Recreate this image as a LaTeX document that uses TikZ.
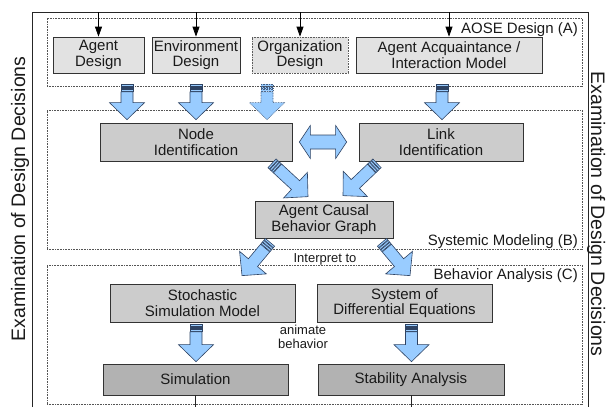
\documentclass[tikz,border=0pt]{standalone}
\usepackage{fontspec}
\setmainfont{Liberation Sans}
\usetikzlibrary{arrows.meta,calc}
\definecolor{boxA}{HTML}{E2E2E2}
\definecolor{boxB}{HTML}{CCCCCC}
\definecolor{boxC}{HTML}{B2B2B2}
\definecolor{arrfill}{HTML}{99CCFF}
\definecolor{arrline}{HTML}{2E4363}
\definecolor{edgecol}{HTML}{333333}
\definecolor{grpcol}{HTML}{555555}
\definecolor{txtcol}{HTML}{1A1A1A}
\newcommand\bxfont{\fontsize{15}{15.5}\selectfont}
\newcommand\smfont{\fontsize{13}{13.5}\selectfont}
\newcommand\sidefont{\fontsize{19.5}{22}\selectfont}
\newcommand\blkarrow[3][]{%
  \path #2 coordinate (ba-s);
  \path #3 coordinate (ba-e);
  \pgfpointdiff{\pgfpointanchor{ba-s}{center}}{\pgfpointanchor{ba-e}{center}}%
  \pgfgetlastxy{\bax}{\bay}%
  \pgfmathsetmacro\baang{atan2(\bay,\bax)}%
  \pgfmathsetmacro\balen{veclen(\bax,\bay)}%
  \pgfmathsetmacro\bahd{\balen-17}%
  \begin{scope}[shift={(ba-s)}, rotate=\baang]
    \foreach \a/\b in {0/1.9, 2.5/4.4, 5.0/6.9}
      \draw[blk,#1] (\a pt,-6pt) rectangle (\b pt,6pt);
    \draw[blk,#1] (7.5pt,-6pt) -- (\bahd pt,-6pt) -- (\bahd pt,-17.5pt) -- (\balen pt,0pt)
      -- (\bahd pt,17.5pt) -- (\bahd pt,6pt) -- (7.5pt,6pt) -- cycle;
  \end{scope}
}
\begin{document}
\begin{tikzpicture}[x=1pt,y=-1pt,
  box/.style={draw=edgecol, line width=0.7pt, inner sep=0pt, align=center, font=\bxfont, text=txtcol},
  boxa/.style={box, fill=boxA},
  boxb/.style={box, fill=boxB},
  boxc/.style={box, fill=boxC},
  grp/.style={draw=grpcol, line width=0.6pt, dash pattern=on 0.8pt off 0.8pt, inner sep=0pt, minimum width=535pt},
  lbl/.style={inner sep=0pt, font=\bxfont, text=txtcol},
  small/.style={inner sep=0pt, font=\smfont, text=txtcol, align=center},
  side/.style={inner sep=0pt, font=\sidefont, text=txtcol},
  blk/.style={draw=arrline, fill=arrfill, line width=0.6pt, line join=miter},
  blkdot/.style={draw=arrline!80!arrfill, dash pattern=on 0.8pt off 0.8pt},
  frame/.style={draw=black!85, line width=0.8pt},
  toparr/.style={draw=black, line width=0.7pt, -{Triangle[length=10pt,width=7pt]}},
]
\useasboundingbox (0,0) rectangle (610,407);

% dotted groups
\node[grp, minimum height=68pt] (gA) at (314.5,52) {};
\node[grp, minimum height=139pt] (gB) at (314.5,179.5) {};
\node[grp, minimum height=139pt] (gC) at (314.5,334.5) {};

\node[lbl, anchor=base east] (lA) at (578,33) {AOSE Design (A)};
\node[lbl, anchor=base east] (lB) at (578,245) {Systemic Modeling (B)};
\node[lbl, anchor=base east] (lC) at (578,279) {Behavior Analysis (C)};

% frame
\coordinate (fTL) at (32,12);
\coordinate (fTR) at (588,12);
\coordinate (fBL) at (32,407);
\coordinate (fBR) at (588,407);
\draw[frame] (fBL) -- (fTL) -- (fTR) -- (fBR);

% side texts
\node[side, rotate=90, anchor=base] (sL) at (25,199) {Examination of Design Decisions};
\node[side, rotate=-90, anchor=base] (sR) at (591,214) {Examination of Design Decisions};

% boxes
\node[boxa, minimum width=91pt, minimum height=36pt] (agent) at (98.5,55) {Agent\\Design};
\node[boxa, minimum width=88pt, minimum height=36pt] (env) at (196,55) {Environment\\Design};
\node[boxa, draw=edgecol!80, dash pattern=on 0.8pt off 0.8pt, minimum width=96pt, minimum height=36pt] (org) at (300,55) {Organization\\Design};
\node[boxa, minimum width=186pt, minimum height=36pt] (acq) at (449,55) {Agent Acquaintance /\\Interaction Model};

\node[boxb, minimum width=192pt, minimum height=38pt] (node) at (196,142) {Node\\Identification};
\node[boxb, minimum width=164pt, minimum height=38pt] (link) at (441,142) {Link\\Identification};
\node[boxb, minimum width=138pt, minimum height=37pt] (acbg) at (324,219.5) {Agent Causal\\Behavior Graph};

\node[boxb, minimum width=185pt, minimum height=38pt] (stoch) at (202.5,303) {Stochastic\\Simulation Model};
\node[boxb, minimum width=175pt, minimum height=38pt] (sde) at (404.5,303) {System of\\Differential Equations};

\node[boxc, minimum width=185pt, minimum height=31pt] (sim) at (195.5,379.5) {Simulation};
\node[boxc, minimum width=186pt, minimum height=31pt] (stab) at (411,379.5) {Stability Analysis};

% small labels
\node[small, anchor=base] (interp) at (325,262) {Interpret to};
\node[small] (anim) at (303,337) {animate\\behavior};

% top connectors
\draw[toparr] (agent.north |- fTL) -- (agent.north);
\draw[toparr] (env.north |- fTL) -- (env.north);
\draw[toparr] (org.north |- fTL) -- (org.north);
\draw[toparr] (acq.north |- fTL) -- (acq.north);

% bottom connectors
\draw[frame] (sim.south) -- (sim.south |- fBL);
\draw[frame] (stab.south) -- (stab.south |- fBL);

% block arrows
\blkarrow{($(agent.south)+(28.5,11)$)}{($(node.north)+(-69,-3)$)}
\blkarrow{($(env.south)+(0,11)$)}{($(node.north)+(0,-3)$)}
\blkarrow[blkdot]{($(org.south)+(-33,11)$)}{($(node.north)+(71,-3)$)}
\blkarrow{($(acq.south)+(-7,11)$)}{($(link.north)+(1,-3)$)}
\blkarrow{($(node.south)+(76,2)$)}{($(acbg.north)+(-16,-4)$)}
\blkarrow{($(link.south)+(-64,2)$)}{($(acbg.north)+(19,-5)$)}
\blkarrow{($(acbg.south)+(-54,4)$)}{($(stoch.north)+(39.5,-8)$)}
\blkarrow{($(acbg.south)+(58,4)$)}{($(sde.north)+(5.5,-8)$)}
\blkarrow{($(stoch.south)+(-6.5,2)$)}{($(sim.north)+(0.5,-2)$)}
\blkarrow{($(sde.south)+(7,2)$)}{($(stab.north)+(0.5,-2)$)}

% double arrow
\coordinate (da1) at ($(node.east)+(7,0)$);
\coordinate (da2) at ($(link.west)+(-12,0)$);
\draw[blk] (da1) -- ++(11,-16.5) -- ++(0,9.5) -- ($(da2)+(-11,-7)$) -- ++(0,-9.5) -- (da2)
  -- ++(-11,16.5) -- ++(0,-9.5) -- ($(da1)+(11,7)$) -- ++(0,9.5) -- cycle;
\end{tikzpicture}
\end{document}
